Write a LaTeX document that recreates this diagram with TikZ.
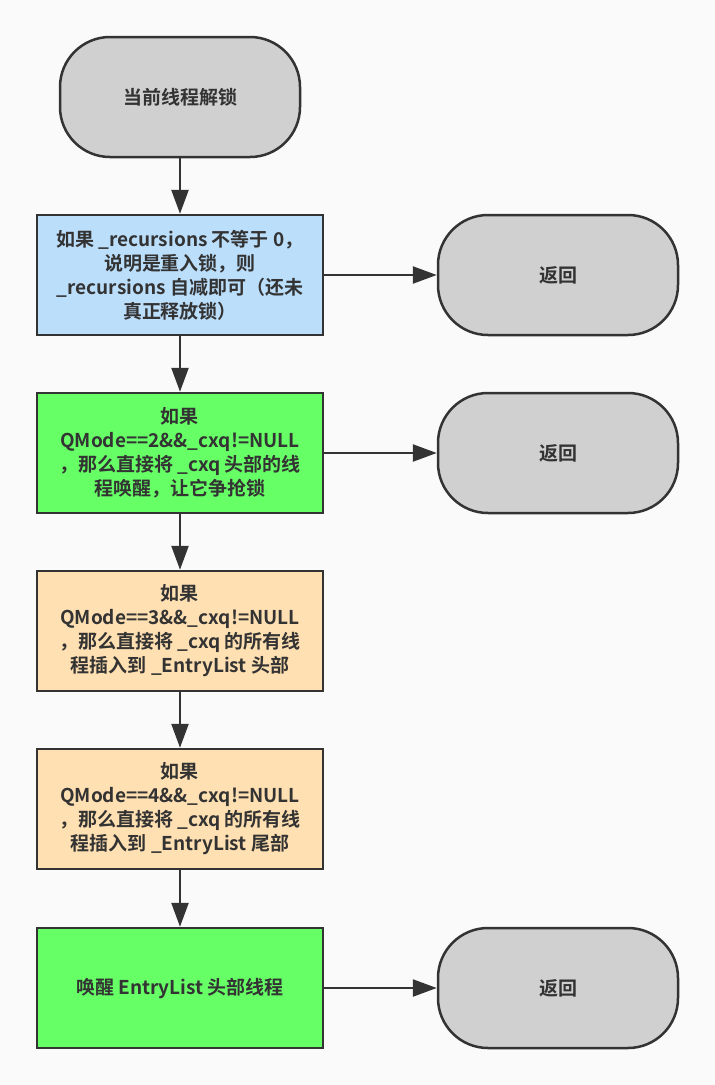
\documentclass[tikz,border=0pt]{standalone}
\usepackage{fontspec}
\setmainfont{Noto Sans CJK SC Bold}
\usepackage{tikz}
\usetikzlibrary{arrows.meta}
\definecolor{bgcol}{HTML}{FAFAFA}
\definecolor{linecol}{HTML}{333333}
\definecolor{termgray}{HTML}{D0D0D0}
\definecolor{stepblue}{HTML}{BBDEFB}
\definecolor{stepgreen}{HTML}{66FF66}
\definecolor{steporange}{HTML}{FFE0B2}
\tikzset{
  term/.style={draw=linecol, fill=termgray, rounded corners=50pt, line width=2.5pt,
    minimum width=240pt, minimum height=120pt, align=center},
  proc/.style={draw=linecol, line width=2.5pt, minimum width=286pt,
    minimum height=120pt, align=center},
  flow/.style={draw=linecol, line width=2.5pt, -{Triangle[length=24pt,width=17pt]}}
}
\begin{document}
\begin{tikzpicture}[x=1pt,y=-1pt,font=\fontsize{19}{24}\selectfont,text=linecol]
\fill[bgcol] (0,0) rectangle (715,1085);
% main column
\node[term] (S) at (180,97) {当前线程解锁};
\node[proc,fill=stepblue] (B1) at (180,275)
  {如果 \_recursions 不等于 0，\\说明是重入锁，则\\\_recursions 自减即可（还未\\真正释放锁）};
\node[proc,fill=stepgreen] (B2) at (180,453)
  {如果\\QMode==2\&\&\_cxq!=NULL\\，那么直接将 \_cxq 头部的线\\程唤醒，让它争抢锁};
\node[proc,fill=steporange] (B3) at (180,631)
  {如果\\QMode==3\&\&\_cxq!=NULL\\，那么直接将 \_cxq 的所有线\\程插入到 \_EntryList 头部};
\node[proc,fill=steporange] (B4) at (180,809)
  {如果\\QMode==4\&\&\_cxq!=NULL\\，那么直接将 \_cxq 的所有线\\程插入到 \_EntryList 尾部};
\node[proc,fill=stepgreen] (B5) at (180,988) {唤醒 EntryList 头部线程};
% return nodes
\foreach \i/\y in {1/275,2/453,3/988} {
  \node[term] (R\i) at (558,\y) {返回};
}
% connectors
\draw[flow] (S) -- (B1);
\draw[flow] (B1) -- (B2);
\draw[flow] (B2) -- (B3);
\draw[flow] (B3) -- (B4);
\draw[flow] (B4) -- (B5);
\draw[flow] (B1) -- (R1);
\draw[flow] (B2) -- (R2);
\draw[flow] (B5) -- (R3);
\end{tikzpicture}
\end{document}
